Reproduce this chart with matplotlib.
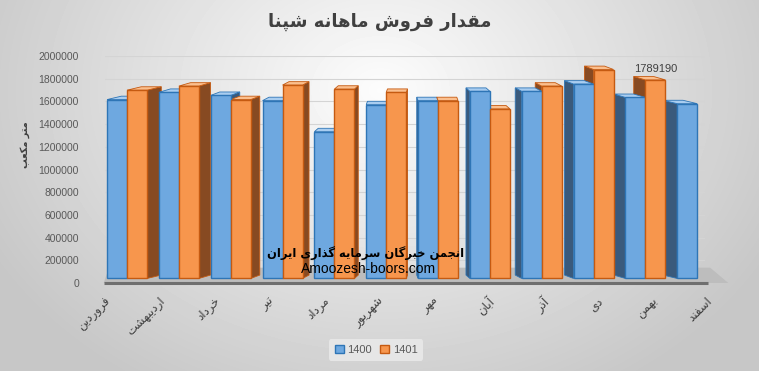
import numpy as np
import matplotlib
matplotlib.use("Agg")
import matplotlib.pyplot as plt
from matplotlib.patches import Polygon

# monthly sales (cubic metres)
months = ["فروردین", "اردیبهشت", "خرداد", "تیر", "مرداد", "شهریور",
          "مهر", "آبان", "آذر", "دی", "بهمن", "اسفند"]
sales_1400 = [1616000, 1680000, 1653000, 1607000, 1333000, 1571000,
              1607000, 1689000, 1689000, 1753000, 1635000, 1580000]
sales_1401 = [1699000, 1735000, 1616000, 1744000, 1708000, 1680000,
              1607000, 1534000, 1735000, 1881000, 1789190, None]
series_names = ["1400", "1401"]
yticks = list(range(0, 2000001, 200000))

title_txt = "مقدار فروش ماهانه شپنا"
ylabel_txt = "متر مکعب"
wm_fa = "انجمن خبرگان سرمایه گذاری ایران"
wm_en = "Amoozesh-boors.com"

# matplotlib has no arabic shaping, so pick presentation forms by hand
FORMS = {
    'ا': ('\uFE8D', '\uFE8E', None, None),
    'آ': ('\uFE81', '\uFE82', None, None),
    'د': ('\uFEA9', '\uFEAA', None, None),
    'ذ': ('\uFEAB', '\uFEAC', None, None),
    'ر': ('\uFEAD', '\uFEAE', None, None),
    'ز': ('\uFEAF', '\uFEB0', None, None),
    'و': ('\uFEED', '\uFEEE', None, None),
    'ژ': ('\uFB8A', '\uFB8B', None, None),
    'ب': ('\uFE8F', '\uFE90', '\uFE91', '\uFE92'),
    'ت': ('\uFE95', '\uFE96', '\uFE97', '\uFE98'),
    'ج': ('\uFE9D', '\uFE9E', '\uFE9F', '\uFEA0'),
    'خ': ('\uFEA5', '\uFEA6', '\uFEA7', '\uFEA8'),
    'س': ('\uFEB1', '\uFEB2', '\uFEB3', '\uFEB4'),
    'ش': ('\uFEB5', '\uFEB6', '\uFEB7', '\uFEB8'),
    'ع': ('\uFEC9', '\uFECA', '\uFECB', '\uFECC'),
    'ف': ('\uFED1', '\uFED2', '\uFED3', '\uFED4'),
    'ق': ('\uFED5', '\uFED6', '\uFED7', '\uFED8'),
    'ل': ('\uFEDD', '\uFEDE', '\uFEDF', '\uFEE0'),
    'م': ('\uFEE1', '\uFEE2', '\uFEE3', '\uFEE4'),
    'ن': ('\uFEE5', '\uFEE6', '\uFEE7', '\uFEE8'),
    'ه': ('\uFEE9', '\uFEEA', '\uFEEB', '\uFEEC'),
    'پ': ('\uFB56', '\uFB57', '\uFB58', '\uFB59'),
    'ک': ('\uFB8E', '\uFB8F', '\uFB90', '\uFB91'),
    'گ': ('\uFB92', '\uFB93', '\uFB94', '\uFB95'),
    'ی': ('\uFBFC', '\uFBFD', '\uFBFE', '\uFBFF'),
}


def fa(text):
    out = []
    for i, c in enumerate(text):
        if c not in FORMS:
            out.append(c)
            continue
        prev = text[i - 1] if i > 0 else None
        nxt = text[i + 1] if i + 1 < len(text) else None
        jp = prev in FORMS and FORMS[prev][2] is not None
        jn = FORMS[c][2] is not None and nxt in FORMS
        if jp and jn:
            out.append(FORMS[c][3])
        elif jp:
            out.append(FORMS[c][1])
        elif jn:
            out.append(FORMS[c][2])
        else:
            out.append(FORMS[c][0])
    return ''.join(out[::-1])


W, H = 759, 371
fig = plt.figure(figsize=(W / 100, H / 100), dpi=100)

# grey radial background
bg = fig.add_axes([0, 0, 1, 1], zorder=-10)
yy, xx = np.mgrid[0:H, 0:W]
r = np.sqrt(((xx - 380) / 420.0) ** 2 + ((yy - 90) / 330.0) ** 2)
shade = np.clip(0.99 - 0.2 * r, 0.78, 1.0)
bg.imshow(shade, cmap="gray", vmin=0, vmax=1, aspect="auto")
bg.axis("off")

ax = fig.add_axes([105 / W, (H - 283) / H, 600 / W, 227 / H])
ax.set_facecolor("none")
x = np.arange(len(months))
w = 0.386
ax.set_xlim(-0.425, 11.15)
ax.set_ylim(0, 2000000)

for t in yticks[1:]:
    ax.axhline(t, color="#d4d4d4", lw=0.8, zorder=0)

# floor of the 3d plot
floor = Polygon([(-0.45, 0), (11.6, 0), (11.25, 135000), (-0.35, 135000)],
                closed=True, fc="#bdbdbd", ec="none", zorder=1, clip_on=False)
ax.add_patch(floor)
ax.plot([-0.45, 11.2], [0, 0], color="#6f6f6f", lw=2.2, zorder=1.5,
        clip_on=False, solid_capstyle="butt")

colors = {"1400": ("#6ea8e0", "#2e75b6", "#3a5a7c", "#a9cdf0"),
          "1401": ("#f7964d", "#c55a11", "#874a22", "#fbbf8e")}
dy = 30000
base = 40000

for name, vals, off in [("1400", sales_1400, -w / 2), ("1401", sales_1401, w / 2)]:
    front, edge, side, top = colors[name]
    xs = [xi + off for xi, v in zip(x, vals) if v is not None]
    hs = [v for v in vals if v is not None]
    ax.bar(xs, [h - base for h in hs], w, bottom=base, color=front,
           edgecolor=edge, lw=1.0, zorder=3, label=name)
    for i, (xc, h) in enumerate(zip(xs, hs)):
        d = 0.05 * (5.5 - i)
        x0, x1 = xc - w / 2, xc + w / 2
        xe = x1 if d > 0 else x0
        ax.add_patch(Polygon([(xe, base), (xe, h), (xe + d, h + dy), (xe + d, base + dy)],
                             closed=True, fc=side, ec=edge, lw=0.6, zorder=2))
        ax.add_patch(Polygon([(x0, h), (x1, h), (x1 + d, h + dy), (x0 + d, h + dy)],
                             closed=True, fc=top, ec=edge, lw=0.6, zorder=2.5))

ax.annotate(f"{sales_1401[10]}", (x[10] + w / 2, sales_1401[10]),
            xytext=(0, 6), textcoords="offset points", ha="center",
            fontsize=8, color="#404040", family="Liberation Sans", zorder=5)

ax.set_yticks(yticks)
ax.set_yticklabels([str(t) for t in yticks], family="Liberation Sans",
                   fontsize=7.5, color="#595959")
ax.tick_params(axis="y", length=0, pad=18.7)
ax.set_xticks([])
for s in ax.spines.values():
    s.set_visible(False)

for i, m in enumerate(months):
    ax.text(i * 1.056 - 0.45, -100000, fa(m), rotation=45, ha="right", va="top",
            rotation_mode="anchor", fontsize=8.5, color="#404040",
            family="DejaVu Sans", clip_on=False)

fig.text(25 / W, 1 - 145 / H, fa(ylabel_txt), rotation=90, ha="center",
         va="center", fontsize=7, color="#404040", family="DejaVu Sans",
         weight="bold")
fig.text(380 / W, 1 - 22 / H, fa(title_txt), ha="center", va="center",
         fontsize=13, weight="bold", color="#404040", family="DejaVu Sans")

fig.text(366 / W, 1 - 253 / H, fa(wm_fa), ha="center", va="center",
         fontsize=8.3, weight="bold", color="black", family="DejaVu Sans", zorder=10)
fig.text(369 / W, 1 - 269 / H, wm_en, ha="center", va="center",
         fontsize=10, color="black", family="Liberation Sans", zorder=10)

leg = fig.legend(loc="center", bbox_to_anchor=(376 / W, 1 - 350 / H), ncol=2,
                 frameon=True, handlelength=0.8, handleheight=0.8,
                 columnspacing=0.8, handletextpad=0.3, borderpad=0.5,
                 prop={"family": "Liberation Sans", "size": 8})
leg.get_frame().set_facecolor("#e6e6e6")
leg.get_frame().set_edgecolor("none")
leg.get_frame().set_alpha(1)
for t in leg.get_texts():
    t.set_color("#595959")

fig.savefig("out.png", dpi=100)
